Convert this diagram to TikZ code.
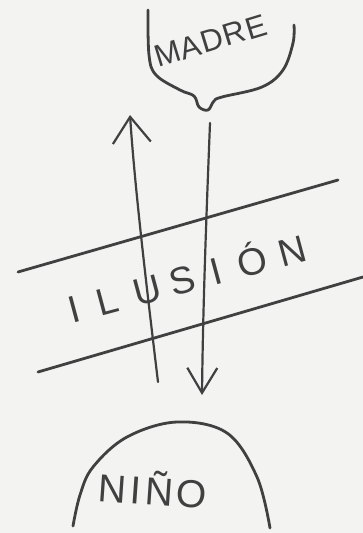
\documentclass[tikz,border=0pt]{standalone}
\usepackage{fontspec}
\setmainfont{Liberation Sans}
\usetikzlibrary{arrows.meta}
\definecolor{ink}{HTML}{404040}
\definecolor{paper}{HTML}{F3F3F1}
\begin{document}
\begin{tikzpicture}[x=1pt,y=-1pt,
  inkline/.style={draw=ink, line width=2.8pt, line cap=round, line join=round},
  arrowline/.style={draw=ink, line width=2.2pt, line cap=round, line join=round},
  handtext/.style={text=ink, inner sep=0pt, anchor=base west}]
\fill[paper] (0,0) rectangle (363,533);
\useasboundingbox (0,0) rectangle (363,533);

% MADRE head
\draw[inkline] plot[smooth, tension=0.6] coordinates {(148,10) (149,55) (156,75) (180,90) (194,96) (199,107) (208,110) (214,101) (222,97) (262,87) (283,70) (293,43) (294,25)};
\node[handtext, rotate=17, font=\fontsize{31}{31}\selectfont] (madre) at (158,68) {M\kern1pt A\kern1pt D\kern1pt R\kern1pt E};

% NINO head
\draw[inkline] plot[smooth, tension=0.6] coordinates {(73,526) (80,495) (93,467) (127,437) (177,422) (227,433) (257,477) (270,528)};
\node[handtext, rotate=-4, font=\fontsize{39}{39}\selectfont] (nino) at (97,501) {N\kern4pt I\kern4pt Ñ\kern3pt O};

% ILUSION band
\coordinate (bandUL) at (18,272);
\coordinate (bandUR) at (338,180);
\coordinate (bandLL) at (38,372);
\coordinate (bandLR) at (363,277);
\draw[inkline] (bandUL) -- (bandUR);
\draw[inkline] (bandLL) -- (bandLR);
\node[handtext, rotate=15, font=\fontsize{38}{38}\selectfont] (ilusion) at (72,324)
  {I\kern19pt L\kern17pt U\kern10pt S\kern17pt I\kern17pt Ó\kern13pt N};

% arrows
\coordinate (upStart) at (158,382);
\coordinate (upEnd) at (130,115);
\coordinate (downStart) at (210,123);
\coordinate (downEnd) at (202,395);
\draw[arrowline, -{Straight Barb[length=26pt,width=38pt]}] (upStart) .. controls (147,290) and (135,190) .. (upEnd);
\draw[arrowline, -{Straight Barb[length=25pt,width=30pt]}] (downStart) .. controls (207,200) and (203,300) .. (downEnd);
\end{tikzpicture}
\end{document}
